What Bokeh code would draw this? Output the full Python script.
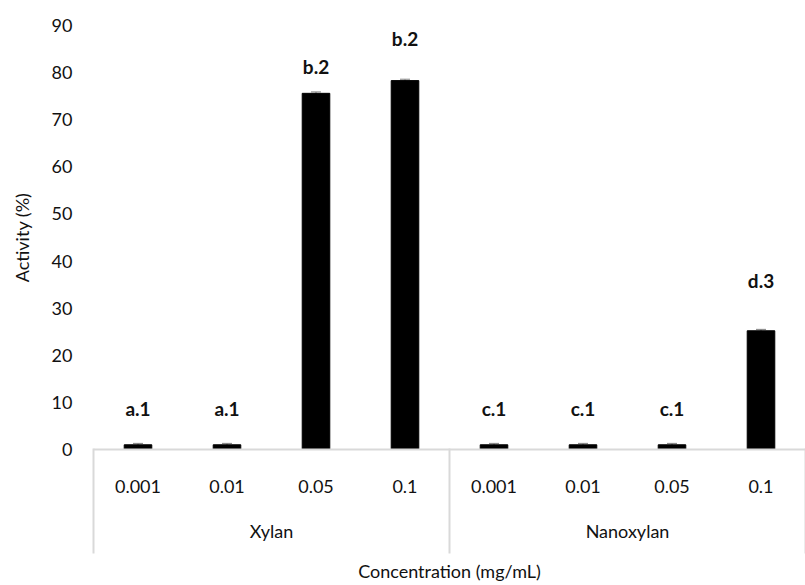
from bokeh.plotting import figure
from bokeh.models import (ColumnDataSource, FactorRange, Whisker, TeeHead, FixedTicker,
                          CategoricalAxis)
from bokeh.core.properties import value
from bokeh.embed import file_html
from bokeh.resources import INLINE

groups = ["Xylan", "Xylan", "Xylan", "Xylan", "Nanoxylan", "Nanoxylan", "Nanoxylan", "Nanoxylan"]
concentrations = ["0.001", "0.01", "0.05", "0.1", "0.001", "0.01", "0.05", "0.1"]
activity = [1.0, 1.0, 75.6, 78.3, 1.0, 1.0, 1.0, 25.2]
errors = [0.3, 0.3, 0.3, 0.3, 0.3, 0.3, 0.3, 0.3]
letters = ["a.1", "a.1", "b.2", "b.2", "c.1", "c.1", "c.1", "d.3"]
letter_y = [8.8, 8.8, 81.4, 87.2, 8.7, 8.7, 8.7, 35.9]
y_ticks = [0, 10, 20, 30, 40, 50, 60, 70, 80, 90]

FONT = "Lato"
TXT = "#111111"
GRID = "#d9d9d9"
factors = list(zip(groups, concentrations))

src = ColumnDataSource(dict(
    x=factors, y=activity,
    upper=[a + e for a, e in zip(activity, errors)],
    lower=[a - e for a, e in zip(activity, errors)],
    lab=letters, ly=letter_y,
))

p = figure(width=805, height=585, output_backend="svg", toolbar_location=None,
           x_range=FactorRange(*factors, factor_padding=0, group_padding=0, range_padding=0),
           y_range=(0, 90))
p.min_border_left = 93
p.min_border_right = 0
p.min_border_top = 25
p.min_border_bottom = 136
p.outline_line_color = None
p.grid.grid_line_color = None

p.vbar(x="x", top="y", width=0.31, source=src, fill_color="black", line_color="black")
p.add_layout(Whisker(source=src, base="x", upper="upper", lower="lower",
                     line_color="#808080", line_width=1,
                     upper_head=TeeHead(size=10, line_color="#808080", line_width=1),
                     lower_head=TeeHead(size=10, line_color="#808080", line_width=1)))
p.text(x="x", y="ly", text="lab", source=src, text_align="center", text_baseline="middle",
       text_font=value(FONT), text_font_style="bold", text_font_size="19px", text_color=TXT)

ya = p.yaxis[0]
ya.ticker = FixedTicker(ticks=y_ticks)
ya.axis_line_color = None
ya.major_tick_line_color = None
ya.minor_tick_line_color = None
ya.major_label_text_font = FONT
ya.major_label_text_font_size = "18px"
ya.major_label_text_color = TXT
ya.major_label_standoff = 15
ya.axis_label = "Activity (%)"
ya.axis_label_text_font = FONT
ya.axis_label_text_font_size = "18px"
ya.axis_label_text_font_style = "normal"
ya.axis_label_text_color = TXT
ya.axis_label_standoff = 16

xa = p.xaxis[0]
xa.axis_line_color = GRID
xa.axis_line_width = 2
xa.major_tick_line_color = None
xa.minor_tick_line_color = None
xa.major_label_text_font = FONT
xa.major_label_text_font_size = "18px"
xa.major_label_text_color = TXT
xa.major_label_standoff = 24
xa.group_text_font = FONT
xa.group_text_font_size = "18px"
xa.group_text_font_style = "normal"
xa.group_text_color = TXT
xa.separator_line_color = None

# outer categorical axis whose (blank) factors sit on the group boundaries:
# its long inward ticks draw the group separators; it also carries the title
edge_factors = [" ", "  ", "   "]
p.extra_x_ranges = {"edges": FactorRange(*edge_factors, factor_padding=0,
                                         range_padding=-0.499, range_padding_units="absolute")}
ea = CategoricalAxis(x_range_name="edges")
ea.axis_line_color = None
ea.minor_tick_line_color = None
ea.major_tick_line_color = GRID
ea.major_tick_line_width = 2
ea.major_tick_in = 96
ea.major_tick_out = 9
ea.major_label_text_font_size = "2px"
ea.major_label_standoff = 0
ea.axis_label = "Concentration (mg/mL)"
ea.axis_label_text_font = FONT
ea.axis_label_text_font_size = "18px"
ea.axis_label_text_font_style = "normal"
ea.axis_label_text_color = TXT
ea.axis_label_standoff = 1
p.add_layout(ea, "below")

open("out.html", "w").write(file_html(p, INLINE))
